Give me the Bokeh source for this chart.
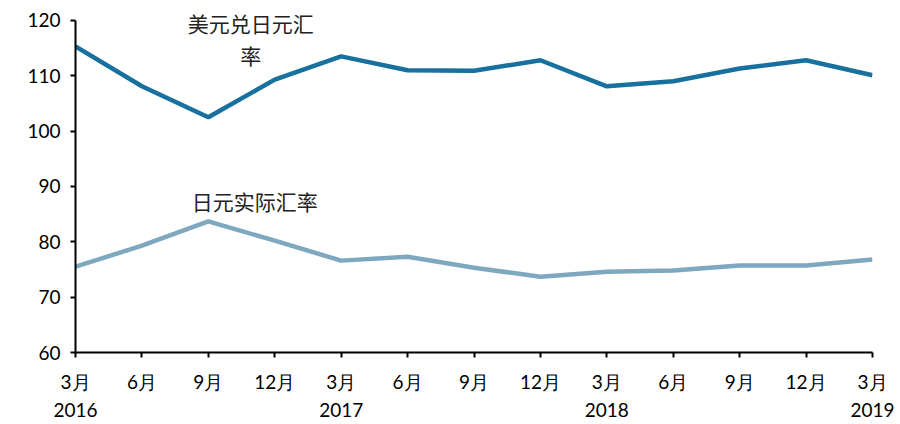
from bokeh.plotting import figure
from bokeh.models import Range1d, FixedTicker, Label
from bokeh.embed import file_html
from bokeh.resources import INLINE

months = ["3月", "6月", "9月", "12月", "3月", "6月", "9月", "12月", "3月", "6月", "9月", "12月", "3月"]
years = ["2016", "", "", "", "2017", "", "", "", "2018", "", "", "", "2019"]
usd_jpy = [115.3, 108.1, 102.5, 109.3, 113.5, 111.0, 110.9, 112.8, 108.1, 109.0, 111.3, 112.8, 110.1]
jpy_real = [75.5, 79.3, 83.7, 80.2, 76.6, 77.3, 75.3, 73.7, 74.6, 74.8, 75.7, 75.7, 76.8]

x = list(range(len(months)))

p = figure(width=896, height=424, output_backend="svg", toolbar_location=None,
           x_range=Range1d(0, 12), y_range=Range1d(60, 123.6),
           min_border_left=75, min_border_right=24, min_border_top=0, min_border_bottom=72)
p.outline_line_color = None
p.xgrid.visible = False
p.ygrid.visible = False

p.line(x, usd_jpy, line_color="#17709e", line_width=4.5)
p.line(x, jpy_real, line_color="#7ea7c0", line_width=4.5)

for txt, xx, yy in [("美元兑日元汇", 2.64, 119.6), ("率", 2.64, 113.7), ("日元实际汇率", 2.70, 87.4)]:
    p.add_layout(Label(x=xx, y=yy, text=txt, text_font="Noto Sans CJK SC", text_font_size="21px",
                       text_align="center", text_baseline="middle", text_color="#222222"))

p.xaxis.ticker = FixedTicker(ticks=x)
p.xaxis.major_label_overrides = {i: (m + "\n" + y if y else m) for i, (m, y) in enumerate(zip(months, years))}
p.yaxis.ticker = FixedTicker(ticks=[60, 70, 80, 90, 100, 110, 120])
p.yaxis.bounds = (60, 120)

for ax in (p.xaxis[0], p.yaxis[0]):
    ax.axis_line_color = "black"
    ax.axis_line_width = 2
    ax.major_tick_line_color = "black"
    ax.major_tick_line_width = 2
    ax.major_tick_out = 5
    ax.major_tick_in = 0
    ax.minor_tick_line_color = None
    ax.major_label_text_font = "Lato"
    ax.major_label_text_font_size = "19px"
    ax.major_label_text_color = "black"

p.xaxis.major_label_standoff = 12
p.xaxis.major_label_text_line_height = 1.25
p.yaxis.major_label_standoff = 10

open("out.html", "w").write(file_html(p, INLINE))
